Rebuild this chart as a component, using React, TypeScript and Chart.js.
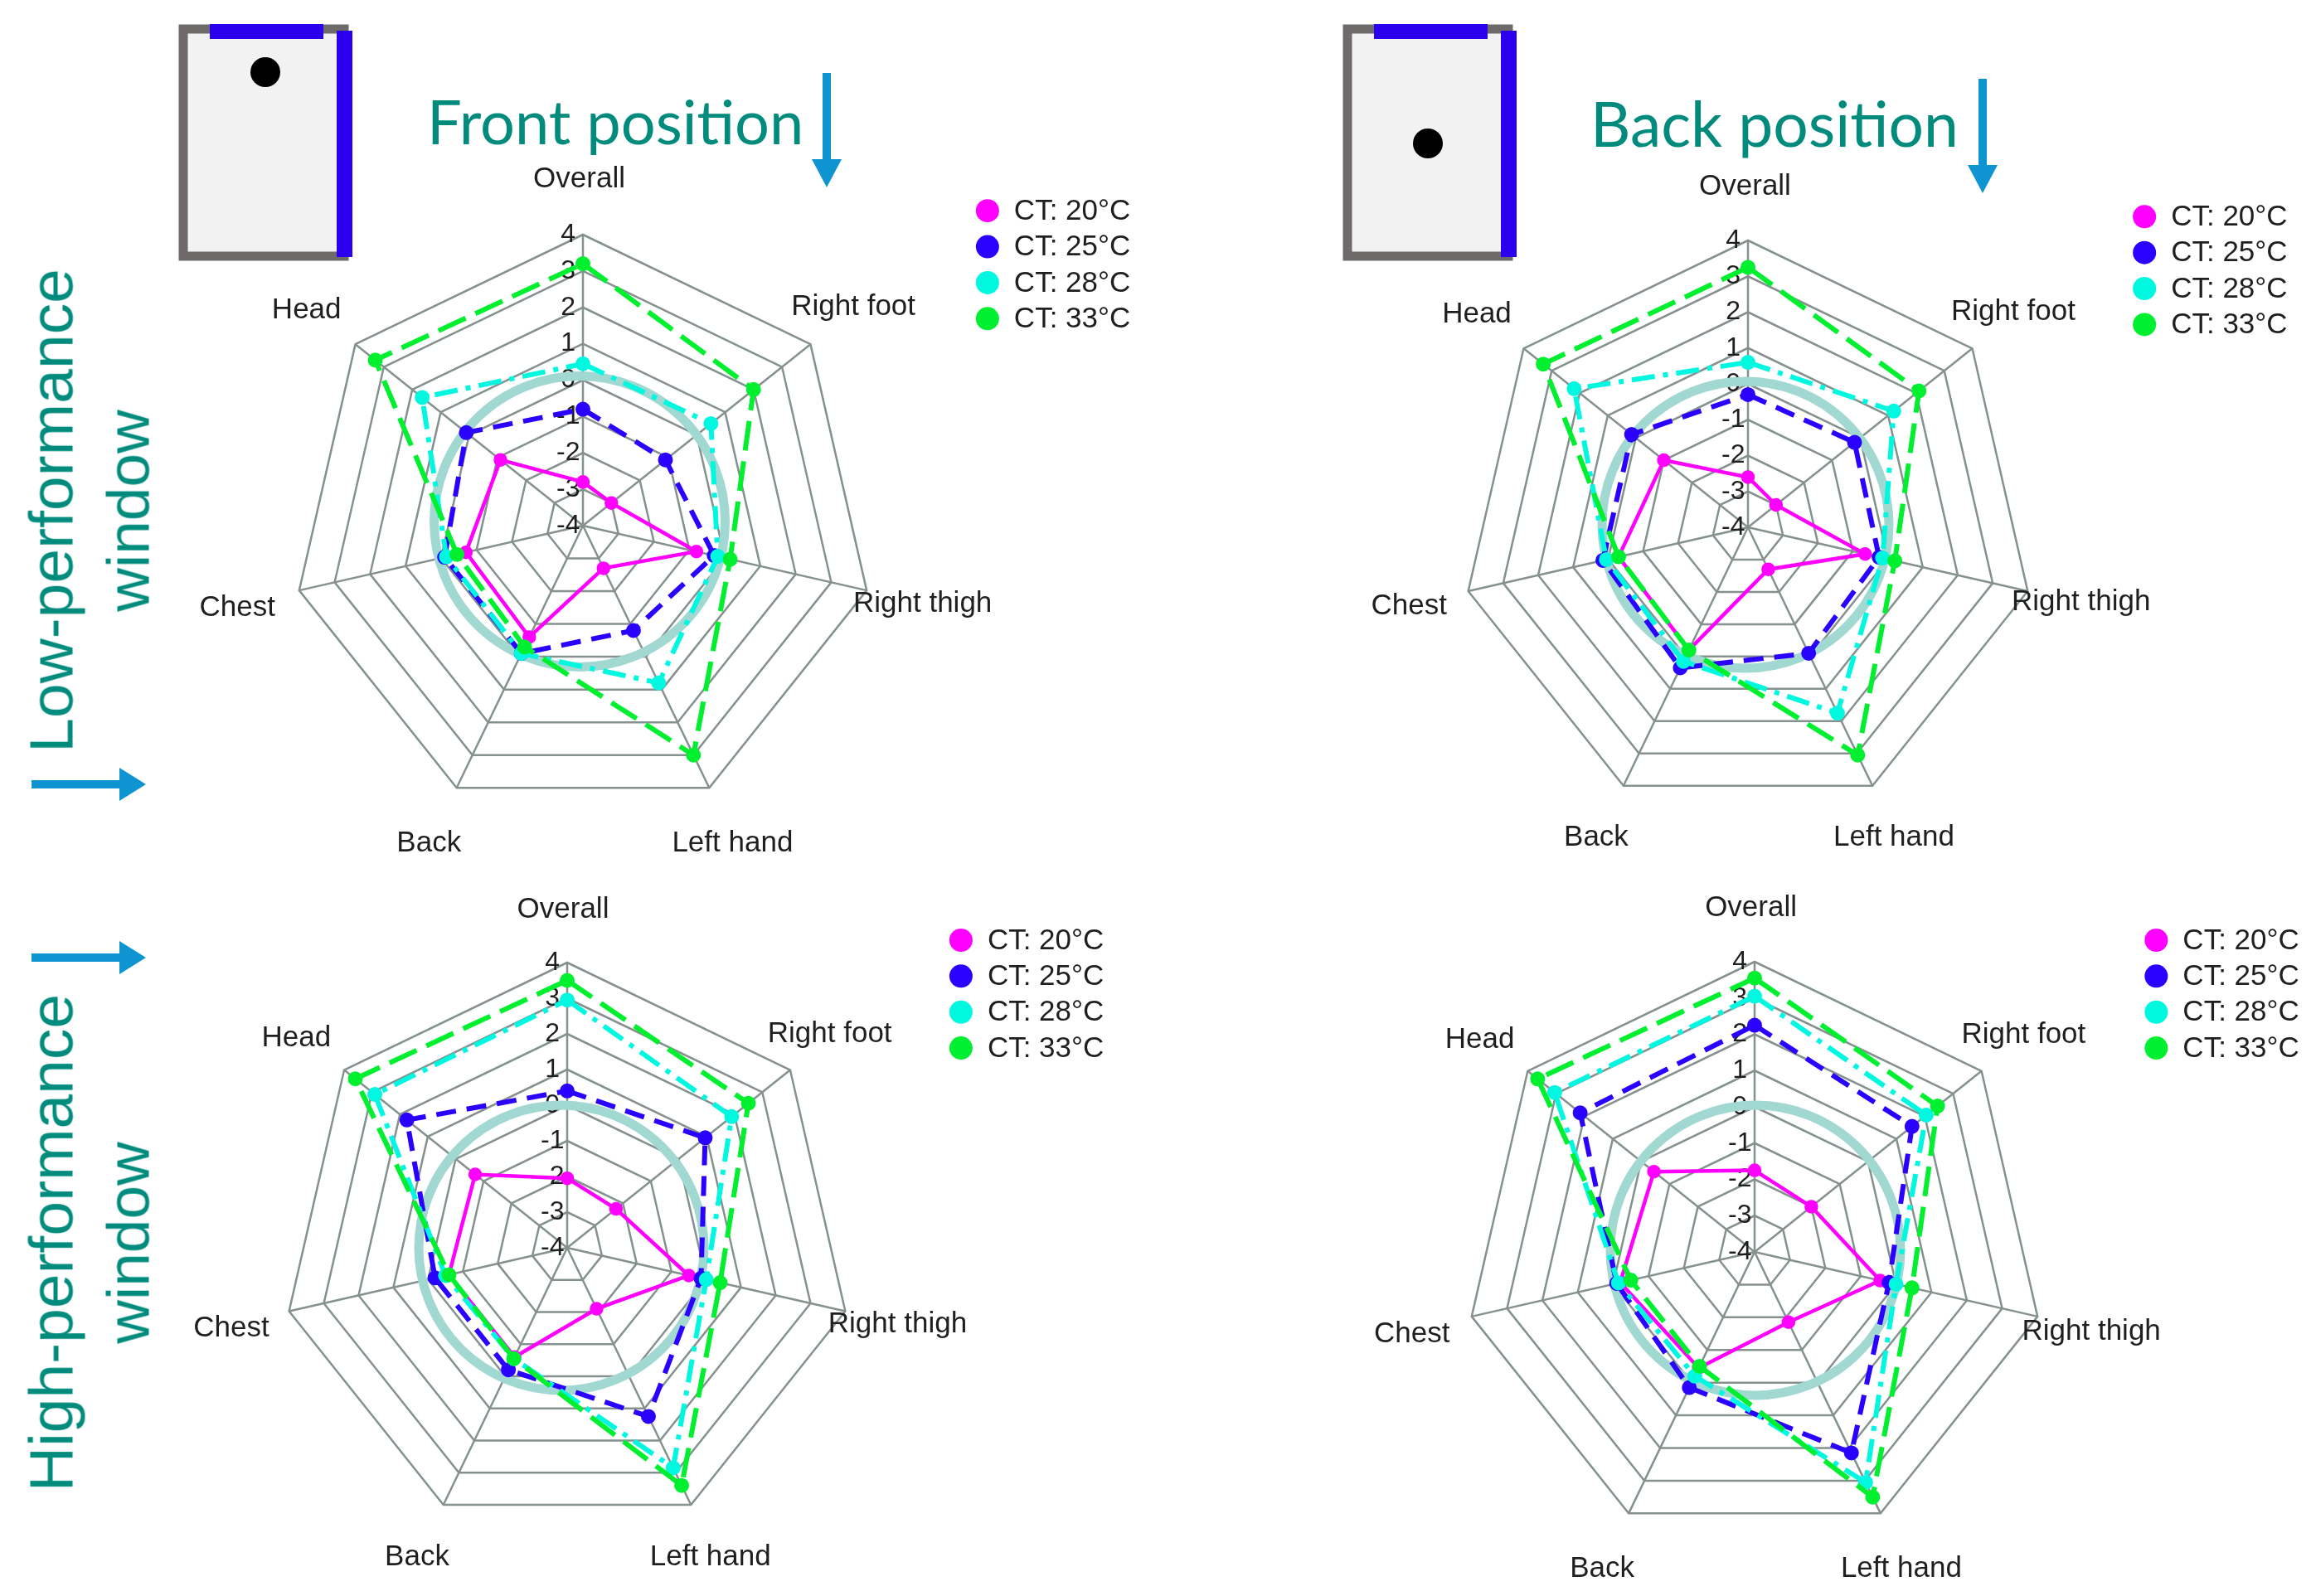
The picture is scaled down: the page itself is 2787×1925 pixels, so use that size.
import React, { useEffect, useRef } from "react";
import { Chart, registerables } from "chart.js";

Chart.register(...registerables);

const categories = ["Overall", "Right foot", "Right thigh", "Left hand", "Back", "Chest", "Head"];
const seriesNames = ["CT: 20°C", "CT: 25°C", "CT: 28°C", "CT: 33°C"];
const tickValues = [-4, -3, -2, -1, 0, 1, 2, 3, 4];

const frontLow20 = [-2.8, -3.0, -0.8, -2.7, -0.6, -0.7, -1.1];
const frontLow25 = [-0.8, -1.1, -0.3, -0.8, -0.1, -0.1, 0.1];
const frontLow28 = [0.45, 0.5, -0.2, 0.8, -0.1, -0.15, 1.65];
const frontLow33 = [3.2, 2.0, 0.15, 3.0, -0.3, -0.45, 3.3];

const backLow20 = [-2.6, -3.0, -0.65, -2.7, -0.2, -0.3, -1.0];
const backLow25 = [-0.3, -0.2, -0.25, -0.1, 0.35, 0.15, 0.15];
const backLow28 = [0.6, 1.2, -0.15, 1.75, 0.15, 0.05, 2.2];
const backLow33 = [3.25, 2.1, 0.2, 3.05, -0.2, -0.3, 3.3];

const frontHigh20 = [-2.05, -2.25, -0.5, -2.1, -0.6, -0.6, -0.7];
const frontHigh25 = [0.4, 0.95, -0.15, 1.25, -0.2, -0.2, 1.75];
const frontHigh28 = [2.95, 1.9, 0.0, 2.85, -0.55, -0.5, 2.9];
const frontHigh33 = [3.5, 2.5, 0.4, 3.4, -0.55, -0.6, 3.6];

const backHigh20 = [-1.75, -2.0, -0.45, -1.85, -0.45, -0.2, -0.45];
const backHigh25 = [2.25, 1.55, -0.2, 2.15, 0.15, -0.1, 2.15];
const backHigh28 = [3.05, 2.05, 0.0, 3.05, -0.2, -0.15, 3.05];
const backHigh33 = [3.55, 2.45, 0.45, 3.5, -0.5, -0.5, 3.65];

const S = 2787 / 1568;
const W = 2787;
const H = 1925;
const COLORS = ["#ff00ff", "#2a00ff", "#00f7e0", "#00f030"];
const DASHES: number[][] = [[], [24, 13], [28, 10, 6, 10], [36, 13]];
const WIDTHS = [4.5, 6, 6, 6];
const GRID = "#85918e";
const RING = "#a2d8d2";
const TEXT = "#1f1f1f";
const TEAL = "#008b7d";
const ARROW = "#0f94d2";
const FONT = "'Liberation Sans', Arial, sans-serif";

type Panel = {
  series: number[][];
  cx: number;
  cy: number;
  r: number;
  ring: number[];
  legendX: number;
  legendY: number;
  labels: number[][];
};

const panels: Panel[] = [
  {
    series: [frontLow20, frontLow25, frontLow28, frontLow33],
    cx: 396, cy: 357, r: 198, ring: [-4, -5], legendX: 670, legendY: 143,
    labels: [[393, 121.5], [579, 208.5], [626, 409.5], [497, 572.5], [291, 572.5], [161, 412.5], [208, 210.5]],
  },
  {
    series: [backLow20, backLow25, backLow28, backLow33],
    cx: 1186.5, cy: 358, r: 195, ring: [-3, -3], legendX: 1455, legendY: 147,
    labels: [[1184, 126.5], [1366, 211.5], [1412, 408.5], [1285, 568.5], [1083, 568.5], [956, 411.5], [1002, 213.5]],
  },
  {
    series: [frontHigh20, frontHigh25, frontHigh28, frontHigh33],
    cx: 385, cy: 847, r: 194, ring: [-7, 0], legendX: 652, legendY: 638,
    labels: [[382, 617.5], [563, 701.5], [609, 898.5], [482, 1056.5], [283, 1056.5], [157, 901.5], [201, 704.5]],
  },
  {
    series: [backHigh20, backHigh25, backHigh28, backHigh33],
    cx: 1191, cy: 850, r: 197, ring: [1, -2], legendX: 1463, legendY: 638,
    labels: [[1188, 616.5], [1373, 702.5], [1419, 903.5], [1290, 1064.5], [1087, 1064.5], [958, 905.5], [1004, 705.5]],
  },
];

const TICK_SIZE = 32;

const decorPlugin = {
  id: "decor",
  beforeDatasetsDraw(chart: any, _args: any, opts: any) {
    const s = chart.scales.r;
    const ctx = chart.ctx;
    ctx.save();
    ctx.beginPath();
    ctx.arc(s.xCenter + opts.ring[0], s.yCenter + opts.ring[1], s.getDistanceFromCenterForValue(0), 0, Math.PI * 2);
    ctx.strokeStyle = RING;
    ctx.lineWidth = 11;
    ctx.stroke();
    ctx.restore();
  },
  afterDatasetsDraw(chart: any, _args: any, opts: any) {
    const ctx = chart.ctx;
    ctx.save();
    ctx.font = `35px ${FONT}`;
    ctx.fillStyle = TEXT;
    ctx.textAlign = "center";
    ctx.textBaseline = "middle";
    chart.data.labels.forEach((lab: string, i: number) => {
      ctx.fillText(lab, opts.labels[i][0] * S, opts.labels[i][1] * S);
    });
    chart.data.datasets.forEach((d: any, i: number) => {
      const y = (opts.legendY + i * 24.4) * S;
      const x = opts.legendX * S;
      ctx.beginPath();
      ctx.arc(x, y, 14, 0, Math.PI * 2);
      ctx.fillStyle = d.borderColor;
      ctx.fill();
      ctx.fillStyle = TEXT;
      ctx.textAlign = "left";
      ctx.fillText(d.label, x + 32, y + 1);
    });
    ctx.restore();
  },
};

function RadarPanel({ panel }: { panel: Panel }) {
  const ref = useRef<HTMLCanvasElement | null>(null);
  useEffect(() => {
    const c = ref.current;
    if (!c) return;
    const cx = panel.cx * S;
    const cy = panel.cy * S;
    const r = panel.r * S;
    const chart = new Chart(c, {
      type: "radar",
      plugins: [decorPlugin],
      data: {
        labels: categories,
        datasets: panel.series.map((values, i) => ({
          label: seriesNames[i],
          data: values,
          borderColor: COLORS[i],
          backgroundColor: COLORS[i],
          pointBackgroundColor: COLORS[i],
          pointBorderColor: COLORS[i],
          pointRadius: 6,
          borderWidth: WIDTHS[i],
          borderDash: DASHES[i],
          fill: false,
          tension: 0,
          order: 3 - i,
        })),
      },
      options: {
        responsive: false,
        animation: false,
        devicePixelRatio: 1,
        layout: {
          padding: {
            left: cx - r - TICK_SIZE / 2,
            right: W - cx - r - TICK_SIZE / 2,
            top: cy - r - TICK_SIZE / 2,
            bottom: H - cy - r - TICK_SIZE / 2,
          },
        },
        plugins: {
          legend: { display: false },
          tooltip: { enabled: false },
          decor: { labels: panel.labels, legendX: panel.legendX, legendY: panel.legendY, ring: panel.ring },
        },
        scales: {
          r: {
            min: tickValues[0],
            max: tickValues[tickValues.length - 1],
            grid: { color: GRID, lineWidth: 2.5 },
            angleLines: { color: GRID, lineWidth: 2.5 },
            pointLabels: { display: false },
            ticks: {
              stepSize: 1,
              showLabelBackdrop: false,
              backdropPadding: 0,
              color: TEXT,
              font: { family: FONT, size: TICK_SIZE },
              callback: (v: number) => `${v}    `,
            },
          },
        },
      } as any,
    });
    return () => chart.destroy();
  }, [panel]);
  return (
    <canvas
      ref={ref}
      width={W}
      height={H}
      style={{ position: "absolute", left: 0, top: 0, width: W, height: H }}
    />
  );
}

function Room({ x, dotX, dotY }: { x: number; dotX: number; dotY: number }) {
  return (
    <g>
      <rect x={x + 5} y={35} width={194} height={274} fill="#f2f2f2" stroke="#6f6a6a" strokeWidth={11} />
      <rect x={x + 37} y={29} width={137} height={18} fill="#2a00ee" />
      <rect x={x + 190} y={37} width={19} height={273} fill="#2a00ee" />
      <circle cx={dotX} cy={dotY} r={18} fill="#000" />
    </g>
  );
}

function ArrowH({ x1, x2, y }: { x1: number; x2: number; y: number }) {
  return (
    <g>
      <rect x={x1} y={y - 5} width={x2 - x1 - 28} height={10} fill={ARROW} />
      <polygon points={`${x2 - 32},${y - 20} ${x2},${y} ${x2 - 32},${y + 20}`} fill={ARROW} />
    </g>
  );
}

function ArrowV({ x, y1, y2 }: { x: number; y1: number; y2: number }) {
  return (
    <g>
      <rect x={x - 5} y={y1} width={10} height={y2 - y1 - 28} fill={ARROW} />
      <polygon points={`${x - 18},${y2 - 34} ${x},${y2} ${x + 18},${y2 - 34}`} fill={ARROW} />
    </g>
  );
}

const titleStyle: React.CSSProperties = {
  position: "absolute",
  fontFamily: "Lato, sans-serif",
  fontSize: 74,
  color: TEAL,
  whiteSpace: "nowrap",
  lineHeight: 1,
};

function Rotated({ text, cx, cy, size }: { text: string; cx: number; cy: number; size: number }) {
  return (
    <div
      style={{
        position: "absolute",
        left: cx,
        top: cy,
        transform: "translate(-50%,-50%) rotate(-90deg)",
        fontFamily: FONT,
        fontSize: size,
        color: TEAL,
        whiteSpace: "nowrap",
        lineHeight: 1,
      }}
    >
      {text}
    </div>
  );
}

export default function App() {
  return (
    <div style={{ position: "absolute", left: 0, top: 0, width: W, height: H, background: "#fff", overflow: "hidden" }}>
      <svg width={W} height={H} style={{ position: "absolute", left: 0, top: 0 }}>
        <Room x={216} dotX={320} dotY={87} />
        <Room x={1620} dotX={1722} dotY={173} />
        <ArrowH x1={38} x2={176} y={946} />
        <ArrowH x1={38} x2={176} y={1155} />
        <ArrowV x={997} y1={88} y2={226} />
        <ArrowV x={2391} y1={95} y2={233} />
      </svg>
      {panels.map((p, i) => (
        <RadarPanel key={i} panel={p} />
      ))}
      <div style={{ ...titleStyle, left: 515, top: 109 }}>Front position</div>
      <div style={{ ...titleStyle, left: 1918, top: 111, fontSize: 75 }}>Back position</div>
      <Rotated text="Low-performance" cx={62} cy={616} size={75} />
      <Rotated text="window" cx={154} cy={616} size={73} />
      <Rotated text="High-performance" cx={62} cy={1499} size={75} />
      <Rotated text="window" cx={154} cy={1499} size={73} />
    </div>
  );
}
